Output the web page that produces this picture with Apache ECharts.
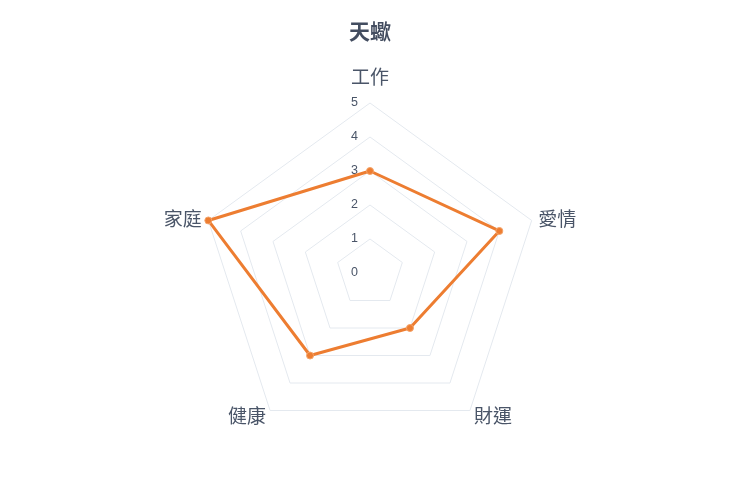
<!DOCTYPE html>
<html><head><meta charset="utf-8">
<script src="https://cdn.jsdelivr.net/npm/echarts@6/dist/echarts.min.js"></script>
<style>html,body{margin:0;padding:0;background:#fff}#c{width:740px;height:493px}</style>
</head><body><div id="c"></div>
<script>
const titleText = '天蠍';
// clockwise from top
const indicators = ['工作', '愛情', '財運', '健康', '家庭'];
const values = [3, 4, 2, 3, 5];
const maxValue = 5;

// ECharts radar runs counter-clockwise; reorder to draw clockwise
const order = [0].concat(indicators.map((_, i) => i).slice(1).reverse());
const ind = order.map(i => indicators[i]);
const vals = order.map(i => values[i]);

const chart = echarts.init(document.getElementById('c'));
chart.setOption({
  animation: false,
  title: {
    text: titleText, left: 'center', top: 16,
    textStyle: { fontSize: 21, fontWeight: 'bold', color: '#434d60', fontFamily: 'Noto Sans CJK TC' }
  },
  radar: {
    center: ['50%', 273],
    radius: 170,
    startAngle: 90,
    splitNumber: 5,
    shape: 'polygon',
    axisName: {
      color: '#4a5568', fontSize: 19, fontFamily: 'Noto Sans CJK TC',
      formatter: (n) => n === indicators[0] ? '{top|' + n + '}' : n,
      rich: { top: { color: '#4a5568', fontSize: 19, fontFamily: 'Noto Sans CJK TC', padding: [0, 0, 10, 0] } }
    },
    nameGap: 7,
    indicator: ind.map((n, i) => ({
      name: n, max: maxValue, min: 0,
      axisLabel: i === 0 ? { show: true, color: '#4a5568', fontSize: 12.5, margin: 12 } : { show: false }
    })),
    axisLine: { show: false },
    splitLine: { lineStyle: { color: '#e4e9ef', width: 1 } },
    splitArea: { show: false },
    axisTick: { show: false },
    axisLabel: { show: false }
  },
  series: [{
    type: 'radar',
    data: [{ value: vals, name: titleText }],
    symbol: 'circle',
    symbolSize: 7,
    lineStyle: { color: '#ed7d31', width: 3 },
    itemStyle: { color: '#ed7d31', borderColor: '#f4a46a', borderWidth: 1 }
  }]
});
</script></body></html>
